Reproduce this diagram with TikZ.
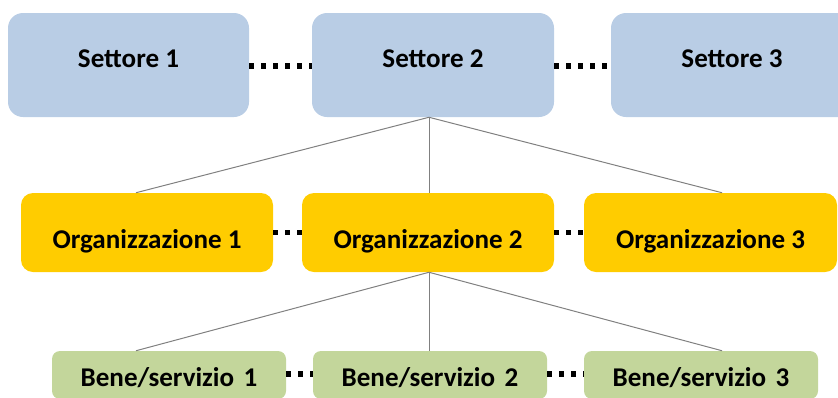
\documentclass[tikz,border=0pt]{standalone}
\usepackage{fontspec}
\setmainfont{Carlito}
\usetikzlibrary{calc}
\definecolor{settblue}{RGB}{185,205,229}
\definecolor{orgyellow}{RGB}{255,204,0}
\definecolor{benegreen}{RGB}{195,214,155}
\definecolor{linkgray}{RGB}{128,128,128}
\tikzset{
  box/.style={rectangle, inner sep=0pt, font=\fontsize{20.3pt}{24pt}\selectfont\bfseries, text depth=0pt},
  settbox/.style={box, fill=settblue, rounded corners=11.25pt, minimum height=78pt, text height=4pt},
  orgbox/.style={box, fill=orgyellow, rounded corners=9pt, minimum height=59.25pt, text height=23.7pt},
  benebox/.style={box, fill=benegreen, rounded corners=6pt, minimum height=36pt, text height=17.25pt},
  dotline/.style={line width=3.9pt, dash pattern=on 3.9pt off 5.1pt},
  link/.style={draw=linkgray, line width=0.75pt}
}
\begin{document}
\begin{tikzpicture}[x=0.75pt,y=-0.75pt]
\useasboundingbox (0,0) rectangle (838,397);
\clip (0,0) rectangle (838,397);
% top row
\node[settbox, minimum width=180.75pt] (s1) at (128.5,65) {Settore 1};
\node[settbox, minimum width=181.5pt] (s2) at (433,65) {Settore 2};
\node[settbox, minimum width=181.5pt] (s3) at (732,65) {Settore 3};
% middle row
\node[orgbox, minimum width=189pt] (o1) at (147,232.5) {Organizzazione 1};
\node[orgbox, minimum width=189pt] (o2) at (428,232.5) {Organizzazione 2};
\node[orgbox, minimum width=189.75pt] (o3) at (710.5,232.5) {Organizzazione 3};
% bottom row
\node[benebox, minimum width=175.5pt] (b1) at (169,375) {Bene/servizio\hspace{0.12em} 1};
\node[benebox, minimum width=175.5pt] (b2) at (430,375) {Bene/servizio\hspace{0.12em} 2};
\node[benebox, minimum width=175.5pt] (b3) at (701,375) {Bene/servizio\hspace{0.12em} 3};
% fan coordinates
\coordinate (f) at ([xshift=-3pt]s2.south);
\coordinate (el) at ($(f)+(-293,0)$);
\coordinate (er) at ($(f)+(293,0)$);
\coordinate (m) at (f |- o2.south);
% connectors top -> middle
\draw[link] (f) -- (el |- o1.north);
\draw[link] (f) -- (f |- o2.north);
\draw[link] (f) -- (er |- o3.north);
% connectors middle -> bottom
\draw[link] (m) -- (el |- b1.north);
\draw[link] (m) -- (m |- b2.north);
\draw[link] (m) -- (er |- b3.north);
% dotted links
\draw[dotline] ([yshift=-0.75pt]s1.east) -- ([yshift=-0.75pt]s2.west);
\draw[dotline] ([yshift=-0.75pt]s2.east) -- ([yshift=-0.75pt]s3.west);
\draw[dotline] (o1.east) -- (o2.west);
\draw[dotline] (o2.east) -- (o3.west);
\draw[dotline] ([yshift=0.75pt]b1.east) -- ([yshift=0.75pt]b2.west);
\draw[dotline] ([yshift=0.75pt]b2.east) -- ([yshift=0.75pt]b3.west);
\end{tikzpicture}
\end{document}
